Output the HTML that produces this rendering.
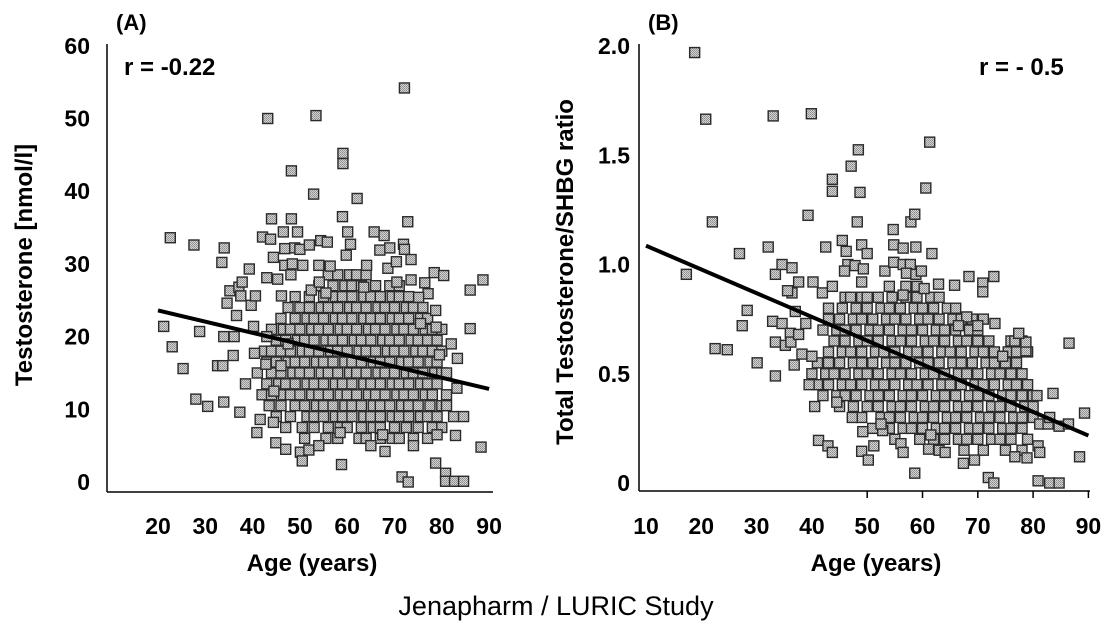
<!DOCTYPE html>
<html><head><meta charset="utf-8">
<style>
html,body{margin:0;padding:0;background:#fff;}
svg text{font-family:"Liberation Sans",Arial,sans-serif;}
</style></head>
<body>
<svg id="chart" width="1113" height="627" viewBox="0 0 1113 627" xmlns="http://www.w3.org/2000/svg">
<defs>
<pattern id="stip" width="2" height="2" patternUnits="userSpaceOnUse">
<rect width="2" height="2" fill="#d4d4d4"/><rect width="1" height="1" fill="#8a8a8a"/><rect x="1" y="1" width="1" height="1" fill="#9a9a9a"/>
</pattern>
</defs>
<g id="panelA"></g>
<g id="panelB"></g>
<text x="116" y="30" font-size="22" font-weight="bold">(A)</text>
<text x="648" y="30" font-size="22" font-weight="bold">(B)</text>
<text x="124" y="75" font-size="24" font-weight="bold">r = -0.22</text>
<text x="979" y="75" font-size="24" font-weight="bold">r = - 0.5</text>
<text transform="translate(32,265) rotate(-90)" text-anchor="middle" font-size="24" font-weight="bold">Testosterone [nmol/l]</text>
<text transform="translate(573,272) rotate(-90)" text-anchor="middle" font-size="24" font-weight="bold">Total Testosterone/SHBG ratio</text>
<text x="312" y="571" text-anchor="middle" font-size="24" font-weight="bold">Age (years)</text>
<text x="876" y="571" text-anchor="middle" font-size="24" font-weight="bold">Age (years)</text>
<text x="556" y="615" text-anchor="middle" font-size="27">Jenapharm / LURIC Study</text>
</svg>
<script>
const xTicksA = [20,30,40,50,60,70,80,90];
const yTicksA = [0,10,20,30,40,50,60];
const xTicksB = [10,20,30,40,50,60,70,80,90];
const yTicksB = [0,0.5,1.0,1.5,2.0];
const yTickLabelsB = ["0","0.5","1.0","1.5","2.0"];
const fitA = [[20,23.6],[90,12.8]];
const fitB = [[10,1.086],[90,0.217]];
const outliersA = [[22.6,33.6],[21.2,21.4],[23,18.6],[25.3,15.6],[27.6,32.6],[28,11.4],[28.8,20.7],[30.5,10.4],[33.5,30.2],[34,32.2],[33.9,11],[32.6,16],[33.7,16],[33.9,20],[36.1,20],[34.6,24.6],[35.2,26.3],[35.9,17.4],[36.6,22.9],[37.1,26.8],[37.8,27.5],[37.5,25.6],[37.3,9.6],[39.3,29.3],[39.7,24.3],[40.6,25.6],[40.2,21.4],[40.4,17.7],[38.5,13.5],[40.9,6.8],[41.6,8.6],[43.2,50],[44,36.2],[42.1,33.7],[43.8,33.4],[43,28.1],[44.4,30.9],[44.4,8.2],[44.9,5.4],[46.5,34.4],[46.8,32.1],[45.3,27.9],[46.1,25.6],[46.8,29.8],[48.4,30],[48.2,36.2],[48.2,42.8],[48.1,28.5],[49.5,34.4],[48.9,32.2],[50,32],[50.6,29.8],[52,32.6],[52.4,26.4],[52.9,39.6],[53.4,50.4],[54,29.8],[54.1,27.5],[54.4,33.2],[55.8,33],[56.4,29.7],[59,36.5],[59.1,45.2],[59.1,43.8],[60.1,34.4],[60.7,32.7],[59.8,31.2],[62.1,39],[64.1,29.8],[65.7,34.4],[67.8,33.9],[69,32.2],[66.9,31.9],[68.6,29.4],[70.4,30.3],[72.1,54.2],[71.9,32.7],[72.1,32],[72.8,35.8],[73.5,30.6],[73.5,27.8],[76.4,27.4],[78.4,28.8],[80.4,28.4],[86,26.4],[88.7,27.8],[86,21.1],[83.3,17],[83.2,12.9],[82.5,9],[84.6,9],[82.9,6.4],[88.3,4.8],[78.7,2.6],[80.8,1.2],[80.8,0.1],[82.7,0.1],[84.6,0.1],[71.6,0.7],[72.9,0],[58.8,2.4],[50.1,4.1],[50.5,2.9],[51.9,4.4],[77.1,25.9],[75.1,25.4],[78.8,21.3],[78.7,23.6],[47,4.5],[54,5],[65,5],[68,4.2],[74,5],[79,6.5],[81,10.5],[81,15],[82,19],[43,20],[46,16],[44.5,12.5],[47.5,19],[42.8,16.2],[55.5,26],[63.5,26.8],[70.5,27.5],[75.5,21.8],[79.5,17.5],[58.5,6.8],[67.5,6.5]];
const rowsA = [
 [6,[51,55.5,58,62.5,64,67,69.5,71,74,77]],
 [7.5,[47,50.5,53,56,58.5,60,63,65.5,67,70,72.5,75,78,80]],
 [9,[45,48,51.5,53,55,57.5,59,61,63.5,65,67,69.5,71,73,75.5,77,79]],
 [10.5,[43.5,46,49,51,53.5,55,57,59.5,61,63,65.5,67,69,71.5,73,75,77.5,80]],
 [12,[42,44,46.5,48,50,52.5,54,56,58.5,60,62,64.5,66,68,70.5,72,74,76.5,78,81]],
 [13.5,[43,45.5,47,49,51.5,53,55,57.5,59,61,63.5,65,67,69.5,71,73,75.5,77,79]],
 [15,[41,44,46,48.5,50,52,54.5,56,58,60.5,62,64,66.5,68,70,72.5,74,76,78.5,80]],
 [16.5,[43,45,47.5,49,51,53.5,55,57,59.5,61,63,65.5,67,69,71.5,73,75,77.5,79]],
 [18,[42.5,44,46,48,50.5,52,54,56.5,58,60,62.5,64,66,68.5,70,72,74.5,76,78,80]],
 [19.5,[45,47,49.5,51,53,55.5,57,59,61.5,63,65,67.5,69,71,73.5,75,77,79]],
 [21,[44,46.5,48,50,52.5,54,56,58.5,60,62,64.5,66,68,70.5,72,74,76.5,78,80]],
 [22.5,[46,49,51.5,53,55,57.5,59,61,63.5,65,67,69.5,71,73,75.5,77]],
 [24,[47.5,50,52,54.5,56,58,60.5,62,64,66.5,68,70,72.5,74,76]],
 [25.5,[49,52,55,57.5,59,61,63.5,65,67,69.5,71,73]],
 [27,[54,57,59.5,61,63,66,69,71]],
 [28.5,[56,58,60.5,62,64]]
];
const outliersB = [[18.8,1.97],[17.3,0.955],[20.8,1.665],[22,1.195],[22.5,0.615],[24.7,0.61],[26.9,1.05],[27.4,0.72],[28.3,0.79],[30.1,0.55],[33,1.68],[32.1,1.08],[33.4,0.955],[33.4,0.49],[32.9,0.74],[34.6,0.73],[33.4,0.645],[35.2,0.63],[34.6,1.0],[36.4,0.985],[36.4,0.87],[35.6,0.88],[37.6,0.92],[36.1,0.685],[36.2,0.645],[37.6,0.68],[36.8,0.54],[37,0.785],[38.2,0.59],[38.9,0.73],[39.9,1.69],[39.3,1.225],[40.2,0.92],[40,0.58],[41.2,0.195],[42.9,0.17],[43.7,0.14],[41.9,0.87],[42.5,1.08],[43.7,1.39],[43.7,1.335],[43.7,0.9],[45.5,1.11],[47.1,1.45],[48.4,1.525],[48.7,1.33],[48.2,1.195],[49,1.09],[50,1.05],[46.2,1.06],[46.5,1.0],[45.9,0.97],[47.8,0.995],[49.3,0.98],[49,0.92],[47.3,0.3],[49.2,0.235],[49,0.145],[51.2,0.17],[50.2,0.105],[52.8,0.24],[53.2,0.97],[54.7,1.16],[54.8,1.09],[56.5,1.075],[54.8,1.01],[56.5,1.0],[57.8,1.0],[57.1,0.96],[58.8,0.955],[57.9,1.195],[58.6,1.23],[58.8,1.08],[59.8,0.97],[60.6,1.35],[61.3,1.56],[61.7,1.05],[60.3,0.89],[62.9,0.91],[65.8,0.905],[68.4,0.945],[70.9,0.915],[70.9,0.875],[72.9,0.945],[73.1,0.73],[58.6,0.045],[56.1,0.18],[56.5,0.14],[61.1,0.155],[64.1,0.14],[67.4,0.09],[69.4,0.105],[71.9,0.025],[72.9,0.0],[76.7,0.12],[78.9,0.115],[80.9,0.17],[81.2,0.14],[80.9,0.01],[83,0.0],[84.7,0.0],[81.2,0.27],[82.7,0.27],[83,0.3],[83.6,0.41],[84.7,0.26],[86.4,0.27],[86.5,0.64],[89.3,0.32],[88.4,0.12],[80.7,0.4],[78.7,0.605],[78.7,0.645],[76.7,0.65],[77.4,0.685],[40.5,0.35],[39.5,0.45],[47,0.85],[50,0.85],[68,0.76],[70,0.72],[44.5,0.37],[52.5,0.27],[61.5,0.22],[74.5,0.58],[66.5,0.72],[56.5,0.86]];
const rowsB = [
 [0.15,[63,67.5,71,75,78]],
 [0.20,[55,59.5,62,64,66.5,68,70,72.5,74,76,79]],
 [0.25,[51,54,56.5,58,60,62.5,64,66,68.5,70,72,74.5,76,78]],
 [0.30,[49,52.5,54,56,58.5,60,62,64.5,66,68,70.5,72,74,76.5,78,80]],
 [0.35,[45,47.5,50,52,54.5,56,58,60.5,62,64,66.5,68,70,72.5,74,76,78.5,80]],
 [0.40,[42,44.5,46,48,50.5,52,54,56.5,58,60,62.5,64,66,68.5,70,72,74.5,76,78,80]],
 [0.45,[41,43,45.5,47,49,51.5,53,55,57.5,59,61,63.5,65,67,69.5,71,73,75.5,77,79]],
 [0.50,[40,42.5,44,46,48.5,50,52,54.5,56,58,60.5,62,64,66.5,68,70,72.5,74,76,78]],
 [0.55,[41,43,45,47.5,49,51,53.5,55,57,59.5,61,63,65.5,67,69,71.5,73,75,77]],
 [0.60,[43,45.5,47,49,51.5,53,55,57.5,59,61,63.5,65,67,69.5,71,73,75.5,77,79]],
 [0.65,[44,46,48.5,50,52,54.5,56,58,60.5,62,64,66.5,68,70,72,76,78]],
 [0.70,[42,44.5,46,48,50.5,52,54,56.5,58,60,62.5,64,66,68.5,70]],
 [0.75,[43,45,47.5,49,51,53.5,55,57,59.5,61,63,65.5,67,69,71]],
 [0.80,[43,45.5,48,50,52.5,54,56,58.5,60,62,64.5,66]],
 [0.85,[46,49,52,54.5,57,59,61.5,63]],
 [0.90,[54,57,59]]
];

const NS = "http://www.w3.org/2000/svg";
function xA(a){return 158 + (a-20)*4.73;}
function yA(v){return 482 - v*7.27;}
function xB(a){return 646 + (a-10)*5.53;}
function yB(v){return 483 - v*218.5;}
function mk(tag, attrs, parent){const e=document.createElementNS(NS,tag);for(const k in attrs)e.setAttribute(k,attrs[k]);parent.appendChild(e);return e;}

function drawPanel(g, xs, ys, x0, yTop, yBase, xEnd, xt, yt, ytl, ticksDown, pts, rows, fit, yLabelRight, pfx){
  const ax = mk('line',{x1:x0,y1:yTop,x2:x0,y2:yBase,stroke:'#000','stroke-width':1.5},g);
  
  
  const bx = mk('line',{x1:x0,y1:yBase,x2:xEnd,y2:yBase,stroke:'#000','stroke-width':1.5},g);
  
  
  yt.forEach((v,i)=>{
    const t = mk('text',{x:yLabelRight,y:ys(v)+8,'text-anchor':'end','font-size':23,'font-weight':'bold'},g);
    t.textContent = ytl[i];
    
    
  });
  xt.forEach(a=>{
    const t = mk('text',{x:xs(a),y:534,'text-anchor':'middle','font-size':23,'font-weight':'bold'},g);
    t.textContent = String(a);
    
    
    if(ticksDown && a>=50){
      const tk = mk('line',{x1:xs(a),y1:yBase,x2:xs(a),y2:yBase+7,stroke:'#000','stroke-width':1.5},g);
      
      
    }
  });
  const all = [];
  rows.forEach(r=>r[1].forEach(a=>all.push([a,r[0]])));
  pts.forEach(p=>all.push(p));
  all.forEach(p=>{
    const s = mk('rect',{x:xs(p[0])-5,y:ys(p[1])-5,width:10,height:10,fill:'url(#stip)',stroke:'#2a2a2a','stroke-width':1.4},g);
    
    
  });
  const l = mk('line',{x1:xs(fit[0][0]),y1:ys(fit[0][1]),x2:xs(fit[1][0]),y2:ys(fit[1][1]),stroke:'#000','stroke-width':4},g);
  
  
}
drawPanel(document.getElementById('panelA'), xA, yA, 107, 44, 492, 493, xTicksA, yTicksA, yTicksA.map(String), false, outliersA, rowsA, fitA, 90, 'panel-a');
drawPanel(document.getElementById('panelB'), xB, yB, 639, 44, 491, 1090, xTicksB, yTicksB, yTickLabelsB, true, outliersB, rowsB, fitB, 630, 'panel-b');
</script>
</body></html>
